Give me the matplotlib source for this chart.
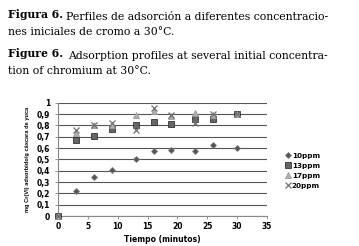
import matplotlib
matplotlib.use('Agg')
import matplotlib.pyplot as plt
from matplotlib.ticker import FuncFormatter

# minutes
tiempo = [0, 3, 6, 9, 13, 16, 19, 23, 26, 30]
ppm10 = [0, 0.22, 0.34, 0.41, 0.50, 0.57, 0.58, 0.57, 0.63, 0.60]
ppm13 = [0, 0.67, 0.71, 0.77, 0.80, 0.83, 0.81, 0.86, 0.86, 0.90]
ppm17 = [0, 0.73, 0.80, 0.80, 0.89, 0.93, 0.88, 0.91, 0.89, 0.90]
ppm20 = [0, 0.76, 0.80, 0.82, 0.76, 0.95, 0.89, 0.82, 0.90, 0.90]

series = [
    ('10ppm', ppm10, dict(marker='D', ms=3.0, mfc='#555555', mec='#777777', mew=0.6)),
    ('13ppm', ppm13, dict(marker='s', ms=4.2, mfc='#666666', mec='#333333', mew=0.6)),
    ('17ppm', ppm17, dict(marker='^', ms=4.5, mfc='#b0b0b0', mec='#999999', mew=0.6)),
    ('20ppm', ppm20, dict(marker='x', ms=5.0, mfc='none', mec='#707070', mew=0.9)),
]

fig = plt.figure(figsize=(3.59, 2.46), dpi=100)
W, H = 359.0, 246.0

serif = ['DejaVu Serif']
fs = 7.8

ax = fig.add_axes([58 / W, 1 - 216 / H, (267 - 58) / W, (216 - 102.7) / H])

# caption, bold label followed by normal text
t1 = fig.text(8 / W, 1 - 18 / H, 'Figura 6.', family=serif, weight='bold', fontsize=fs, va='baseline')
ax.annotate('Perfiles de adsorción a diferentes concentracio-', xy=(1, 0), xycoords=t1,
            xytext=(2.5, 0), textcoords='offset points', family=serif, fontsize=fs,
            va='baseline', ha='left', annotation_clip=False)
fig.text(8 / W, 1 - 35 / H, 'nes iniciales de cromo a 30°C.', family=serif, fontsize=fs, va='baseline')
t3 = fig.text(8 / W, 1 - 57 / H, 'Figure 6.', family=serif, weight='bold', fontsize=fs, va='baseline')
ax.annotate('Adsorption profiles at several initial concentra-', xy=(1, 0), xycoords=t3,
            xytext=(3.5, 0), textcoords='offset points', family=serif, fontsize=fs,
            va='baseline', ha='left', annotation_clip=False)
fig.text(8 / W, 1 - 74 / H, 'tion of chromium at 30°C.', family=serif, fontsize=fs, va='baseline')

for label, vals, st in series:
    ax.plot(tiempo, vals, linestyle='none', label=label, zorder=3, clip_on=False, **st)

ax.set_xlim(0, 35)
ax.set_ylim(0, 1)
ax.set_xticks(range(0, 36, 5))
ax.set_yticks([i / 10 for i in range(11)])
ax.yaxis.set_major_formatter(FuncFormatter(lambda v, p: ('%g' % round(v, 1)).replace('.', ',')))
ax.grid(axis='y', color='#555555', linewidth=0.8)
ax.set_axisbelow(True)
for s in ['top', 'right']:
    ax.spines[s].set_visible(False)
for s in ['left', 'bottom']:
    ax.spines[s].set_color('#888888')
    ax.spines[s].set_linewidth(0.8)
ax.tick_params(axis='both', labelsize=5.5, length=2.5, width=0.6, color='#888888', pad=2)
ax.tick_params(axis='y', pad=3)
for lab in ax.get_xticklabels() + ax.get_yticklabels():
    lab.set_fontweight('bold')

ax.set_xlabel('Tiempo (minutos)', fontsize=5.5, fontweight='bold', labelpad=3)
ax.set_ylabel('mg Cr(VI) adsorbido/g cáscara de yuca', fontsize=4.1, fontweight='bold',
              family='Liberation Sans', labelpad=5)

leg = ax.legend(loc='center left', bbox_to_anchor=(1.07, 0.4), frameon=False,
                prop=dict(size=5.2, weight='bold'),
                handlelength=0.7, handletextpad=0.2, labelspacing=0.55, borderpad=0)

fig.savefig('out.png', dpi=100)
